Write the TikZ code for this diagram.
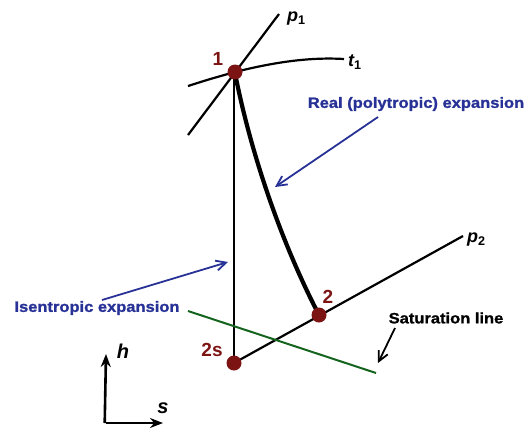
\documentclass[tikz,border=0pt]{standalone}
\usepackage{fontspec}
\setmainfont{Liberation Sans}
\newfontfamily\lblfont[FakeStretch=1.1,FakeBold=1.2]{Liberation Sans}
\usetikzlibrary{arrows.meta}
\definecolor{dred}{RGB}{125,20,20}
\definecolor{lblue}{RGB}{40,50,150}
\definecolor{sgreen}{RGB}{20,100,30}
\tikzset{
  statept/.style={circle,fill=dred,inner sep=0pt,minimum size=15pt},
  ptlabel/.style={text=dred,font=\fontsize{19}{19}\selectfont\bfseries,inner sep=0pt},
  curvelbl/.style={font=\fontsize{18}{18}\selectfont\bfseries\itshape,inner sep=0pt},
  bluelbl/.style={text=lblue,font=\lblfont\fontsize{15}{15}\selectfont\bfseries,inner sep=0pt},
  blacklbl/.style={text=black,font=\lblfont\fontsize{15}{15}\selectfont\bfseries,inner sep=0pt},
  thinline/.style={line width=2.2pt,black},
  pointer/.style={line width=1.8pt,-{Straight Barb[length=10pt,width=10pt,line width=1.8pt]}},
  axis/.style={line width=2.6pt,-{Stealth[length=13pt,width=10pt]}}
}
\begin{document}
\begin{tikzpicture}[x=1pt,y=-1pt]
\useasboundingbox (0,0) rectangle (527,429);
\coordinate (p1a) at (188,135);
\coordinate (p1b) at (279,14);
\coordinate (t1a) at (188,86);
\coordinate (t1b) at (344,59);
\coordinate (p2b) at (463,236);
\coordinate (sa) at (188,311);
\coordinate (sb) at (376,373);
% lines
\draw[thinline] (p1a) -- (p1b);
\draw[thinline] (t1a) .. controls (210,79) .. (235,72) .. controls (275,62) and (310,57) .. (t1b);
\draw[thinline] (234,72) -- (234,363);
\draw[thinline] (234,363) -- (p2b);
\draw[sgreen,line width=2pt] (sa) -- (sb);
\draw[line width=4.2pt,black] (235,73) .. controls (250,150) and (280,240) .. (319,315);
\node[statept] (n1) at (235,72) {};
\node[statept] (n2) at (319,315) {};
\node[statept] (n2s) at (234,363) {};
% point labels
\node[ptlabel] (l1) at (218,59) {1};
\node[ptlabel] (l2) at (328,297) {2};
\node[ptlabel] (l2s) at (212,350) {2s};
% curve labels
\node[curvelbl,anchor=west] (lp1) at (287,19) {p\textsubscript{\upshape 1}};
\node[curvelbl,anchor=west] (lt1) at (348,62) {t\textsubscript{\upshape 1}};
\node[curvelbl,anchor=west] (lp2) at (467,240) {p\textsubscript{\upshape 2}};
% descriptions
\node[bluelbl] (real) at (416,104) {Real (polytropic) expansion};
\node[bluelbl] (isen) at (97,308) {Isentropic expansion};
\node[blacklbl] (sat) at (446,318) {Saturation line};
\coordinate (realtip) at (275,187);
\coordinate (isentip) at (228,262);
\coordinate (sattip) at (378,363);
\draw[pointer,lblue] (378,117) -- (realtip);
\draw[pointer,lblue] (102,300) -- (isentip);
\draw[pointer,black] (395,328) -- (sattip);
% axes
\coordinate (org) at (106,423);
\coordinate (htip) at (106,354);
\coordinate (stip) at (163,423);
\draw[axis] ([xshift=-1.3pt]org) -- (htip);
\draw[axis] (org) -- (stip);
\node[font=\fontsize{20}{20}\selectfont\bfseries\itshape,inner sep=0pt] (hl) at (123,351) {h};
\node[font=\fontsize{20}{20}\selectfont\bfseries\itshape,inner sep=0pt] (sl) at (163,408) {s};
\end{tikzpicture}
\end{document}
